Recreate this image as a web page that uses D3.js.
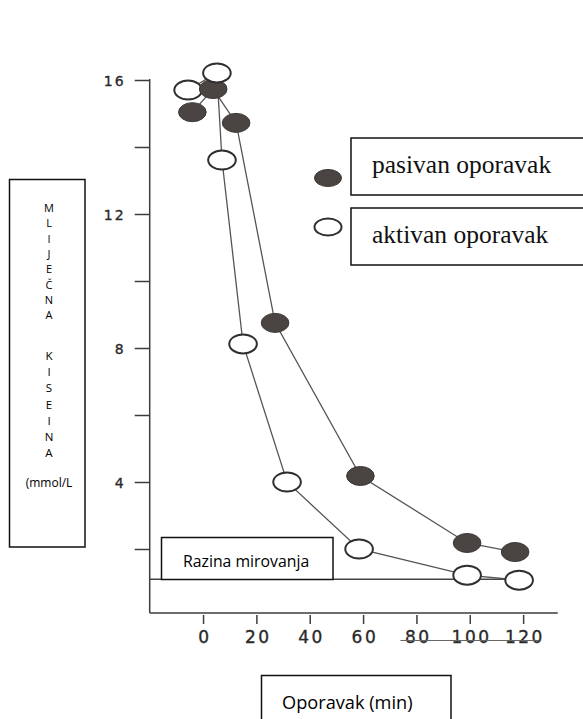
<!DOCTYPE html>
<html>
<head>
<meta charset="utf-8">
<script src="https://cdn.jsdelivr.net/npm/d3@7"></script>
<style>
  html, body { margin: 0; padding: 0; background: #ffffff; }
  svg { display: block; }
</style>
</head>
<body>
<svg id="chart" width="583" height="719"></svg>
<script>
// ---- DATA ----
const pasivanX = [-4, 3.8, 12.4, 27, 59, 99, 117];
const pasivanY = [15.04, 15.73, 14.72, 8.75, 4.18, 2.18, 1.91];
const aktivanX = [-5.6, 5.2, 7.1, 15, 31.5, 58.5, 99, 118.5];
const aktivanY = [15.7, 16.21, 13.61, 8.12, 4.0, 2.0, 1.22, 1.07];
const restLevel = 1.1;
const xTicks = [0, 20, 40, 60, 80, 100, 120];
const yTicks = [2, 4, 6, 8, 10, 12, 14, 16];
const yTickLabels = {4: "4", 8: "8", 12: "12", 16: "16"};
const legendLabels = ["pasivan oporavak", "aktivan oporavak"];
const yLabelTop = ["M", "L", "I", "J", "E", "Č", "N", "A"];
const yLabelBottom = ["K", "I", "S", "E", "I", "N", "A"];
const yLabelUnit = "(mmol/L";
const xLabel = "Oporavak (min)";
const restLabel = "Razina mirovanja";

// ---- SETUP ----
const svg = d3.select("#chart");
const x = d3.scaleLinear().domain([-20, 133]).range([149.7, 557.8]);
const y = d3.scaleLinear().domain([0, 16]).range([616, 80]);
const axisColor = "#3d3d3d";
const xAxisY = 613;

// axis lines
svg.append("line").attr("x1", x(-20)).attr("x2", x(-20))
  .attr("y1", xAxisY).attr("y2", y(16.03))
  .attr("stroke", axisColor).attr("stroke-width", 1.5);
svg.append("line").attr("x1", x(-20)).attr("x2", x(133))
  .attr("y1", xAxisY).attr("y2", xAxisY)
  .attr("stroke", axisColor).attr("stroke-width", 1.5);

// y axis ticks
const yAxis = d3.axisLeft(y).tickValues(yTicks).tickSize(15).tickPadding(9)
  .tickFormat(d => yTickLabels[d] || "");
const gy = svg.append("g").attr("transform", `translate(${x(-20)},0)`).call(yAxis);
gy.select(".domain").remove();
gy.selectAll(".tick line").attr("stroke", axisColor).attr("stroke-width", 1.5);
gy.selectAll(".tick text").attr("fill", "#2a2a2a")
  .attr("stroke", "#2a2a2a").attr("stroke-width", 0.35)
  .style("font-family", "'DejaVu Sans', sans-serif").style("font-size", "14px")
  .style("letter-spacing", "2px").attr("dy", "0.36em");

// x axis ticks
const xAxis = d3.axisBottom(x).tickValues(xTicks).tickSize(9).tickPadding(7)
  .tickFormat(d3.format("d"));
const gx = svg.append("g").attr("transform", `translate(0,${xAxisY + 2})`).call(xAxis);
gx.select(".domain").remove();
gx.selectAll(".tick line").attr("stroke", axisColor).attr("stroke-width", 1.5);
gx.selectAll(".tick text").attr("fill", "#2a2a2a")
  .attr("stroke", "#2a2a2a").attr("stroke-width", 0.35)
  .attr("dx", "1.3px")
  .style("font-family", "'DejaVu Sans', sans-serif").style("font-size", "17px")
  .style("letter-spacing", "2.5px");

// scan underline under 80-120 labels
svg.append("line").attr("x1", x(74)).attr("x2", x(126)).attr("y1", 640.5).attr("y2", 640.5)
  .attr("stroke", "#666").attr("stroke-width", 1);

// rest level line
svg.append("line").attr("x1", x(-20)).attr("x2", x(aktivanX[aktivanX.length - 1]))
  .attr("y1", y(restLevel)).attr("y2", y(restLevel))
  .attr("stroke", "#444").attr("stroke-width", 1.5);

// series lines
const pas = pasivanX.map((d, i) => ({x: d, y: pasivanY[i], s: "p"}));
const akt = aktivanX.map((d, i) => ({x: d, y: aktivanY[i], s: "a"}));
const line = d3.line().x(d => x(d.x)).y(d => y(d.y));
[pas, akt].forEach(s => {
  svg.append("path").datum(s).attr("d", line)
    .attr("fill", "none").attr("stroke", "#555").attr("stroke-width", 1.3);
});

// points (draw lower values first)
const pts = pas.concat(akt).sort((a, b) => a.y - b.y);
svg.selectAll("ellipse.pt").data(pts).enter().append("ellipse")
  .attr("class", "pt")
  .attr("cx", d => x(d.x)).attr("cy", d => y(d.y))
  .attr("rx", 13.8).attr("ry", 9.5)
  .attr("fill", d => d.s === "p" ? "#4a4542" : "#ffffff")
  .attr("stroke", d => d.s === "p" ? "#3a3633" : "#2f2f2f")
  .attr("stroke-width", d => d.s === "p" ? 1 : 2);

// legend
const boxTop = [138, 208];
legendLabels.forEach((lab, i) => {
  svg.append("rect").attr("x", 351).attr("y", boxTop[i]).attr("width", 250).attr("height", 57)
    .attr("fill", "#fff").attr("stroke", "#111").attr("stroke-width", 1.5);
  svg.append("text").attr("x", 372).attr("y", boxTop[i] + 35).text(lab)
    .style("font-family", "'Liberation Serif', 'Times New Roman', serif")
    .style("font-size", "25.5px").attr("fill", "#111");
  svg.append("ellipse").attr("cx", 328).attr("cy", i === 0 ? 178 : 227)
    .attr("rx", 13.5).attr("ry", 8.5)
    .attr("fill", i === 0 ? "#4a4542" : "#fff")
    .attr("stroke", i === 0 ? "#3a3633" : "#2f2f2f")
    .attr("stroke-width", i === 0 ? 1 : 2);
});

// y label box
svg.append("rect").attr("x", 9.5).attr("y", 179.5).attr("width", 75.5).attr("height", 367.5)
  .attr("fill", "#fff").attr("stroke", "#111").attr("stroke-width", 1.5);
const yFont = "'Open Sans', sans-serif";
yLabelTop.forEach((ch, i) => {
  svg.append("text").attr("x", 49).attr("y", 212 + i * 15.3).attr("text-anchor", "middle")
    .text(ch).style("font-family", yFont).style("font-size", "11px").attr("fill", "#000");
});
yLabelBottom.forEach((ch, i) => {
  svg.append("text").attr("x", 49).attr("y", 360 + i * 16.2).attr("text-anchor", "middle")
    .text(ch).style("font-family", yFont).style("font-size", "11.5px").attr("fill", "#000");
});
svg.append("text").attr("x", 49).attr("y", 487).attr("text-anchor", "middle")
  .text(yLabelUnit).style("font-family", yFont).style("font-size", "12px").attr("fill", "#000");

// rest level box
svg.append("rect").attr("x", 161.5).attr("y", 537.5).attr("width", 171.5).attr("height", 42)
  .attr("fill", "#fff").attr("stroke", "#111").attr("stroke-width", 1.5);
svg.append("text").attr("x", 183).attr("y", 567).text(restLabel)
  .style("font-family", yFont).style("font-size", "15.8px").attr("fill", "#000");

// x label box
svg.append("rect").attr("x", 261.5).attr("y", 675.5).attr("width", 189.5).attr("height", 60)
  .attr("fill", "#fff").attr("stroke", "#111").attr("stroke-width", 1.5);
svg.append("text").attr("x", 282).attr("y", 709).text(xLabel)
  .style("font-family", yFont).style("font-size", "18.2px").attr("fill", "#000");
</script>
</body>
</html>
